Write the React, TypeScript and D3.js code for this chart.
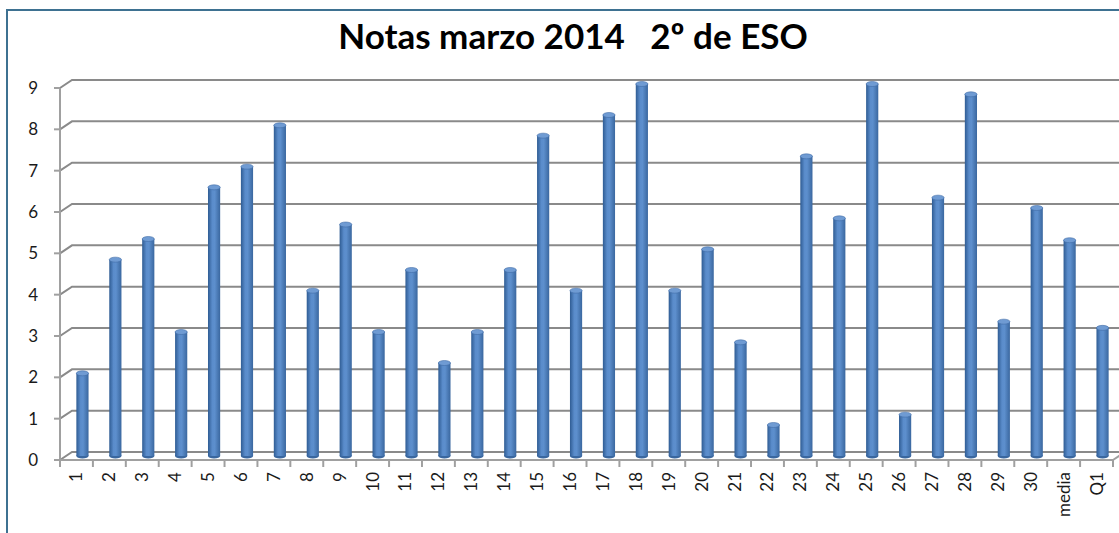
import * as d3 from 'd3';

const categories = [
  '1', '2', '3', '4', '5', '6', '7', '8', '9', '10',
  '11', '12', '13', '14', '15', '16', '17', '18', '19', '20',
  '21', '22', '23', '24', '25', '26', '27', '28', '29', '30',
  'media', 'Q1',
];

const notas = [
  2, 4.75, 5.25, 3, 6.5, 7, 8, 4, 5.6, 3,
  4.5, 2.25, 3, 4.5, 7.75, 4, 8.25, 9, 4, 5,
  2.75, 0.75, 7.25, 5.75, 9, 1, 6.25, 8.75, 3.25, 6,
  5.22, 3.1,
];

const yTicks = [0, 1, 2, 3, 4, 5, 6, 7, 8, 9];

const title = 'Notas marzo 2014\u00a0\u00a0 2º de ESO';

const width = 1119;
const height = 533;
const depthX = 12;
const depthY = 8;

export default function App() {
  // front plane of the 3D box
  const x = d3.scaleBand<string>().domain(categories).range([60, 1113]);
  const y = d3.scaleLinear().domain([0, 9]).range([460, 88]);

  const bw = x.bandwidth() * 0.37;
  const font = 'Lato, "Open Sans", sans-serif';

  return (
    <svg
      width={width}
      height={height}
      style={{ position: 'absolute', left: 0, top: 0, background: '#fff' }}
    >
      <defs>
        <linearGradient id="cyl" x1="0" x2="1" y1="0" y2="0">
          <stop offset="0" stopColor="#2f5c93" />
          <stop offset="0.35" stopColor="#5a8ccb" />
          <stop offset="0.55" stopColor="#5d8fcd" />
          <stop offset="1" stopColor="#3a679f" />
        </linearGradient>
      </defs>

      <rect x={7} y={10} width={width} height={height} fill="#fff" stroke="#3e7191" strokeWidth={2} />

      <text
        x={573}
        y={49}
        textAnchor="middle"
        fontFamily={font}
        fontWeight="bold"
        fontSize={35}
        fill="#000"
      >
        {title}
      </text>

      {/* back wall gridlines + diagonal connectors */}
      <g stroke="#8a8a8a" strokeWidth={2} fill="none">
        {yTicks.map((t) => (
          <path
            key={t}
            d={`M${60},${y(t)}L${60 + depthX},${y(t) - depthY}L${width},${y(t) - depthY}`}
          />
        ))}
      </g>
      <g stroke="#a0a0a0" strokeWidth={2} fill="none">
        <line x1={60} x2={60} y1={y(9)} y2={y(0)} />
        <line x1={60} x2={x.range()[1]} y1={y(0)} y2={y(0)} />
        <line
          x1={x.range()[1]}
          y1={y(0)}
          x2={x.range()[1] + depthX}
          y2={y(0) - depthY}
        />
        {yTicks.map((t) => (
          <line key={'t' + t} x1={54} x2={60} y1={y(t)} y2={y(t)} />
        ))}
        {categories.map((c) => (
          <line key={'c' + c} x1={x(c)!} x2={x(c)!} y1={y(0)} y2={y(0) + 7} />
        ))}
        <line x1={x.range()[1]} x2={x.range()[1]} y1={y(0)} y2={y(0) + 7} />
      </g>

      {/* cylinder bars at mid depth */}
      <g>
        {categories.map((c, i) => {
          const cx = x(c)! + x.bandwidth() / 2 + depthX / 2;
          const base = y(0) - depthY / 2;
          const top = y(notas[i]) - depthY / 2;
          return (
            <g key={c}>
              <ellipse cx={cx} cy={base} rx={bw / 2} ry={2.5} fill="#3a679f" />
              <rect x={cx - bw / 2} y={top} width={bw} height={base - top} fill="url(#cyl)" />
              <ellipse cx={cx} cy={top} rx={bw / 2} ry={2.5} fill="#6f9bd3" stroke="#3f6ca6" strokeWidth={0.6} />
            </g>
          );
        })}
      </g>

      <g fontFamily={font} fontSize={17} fill="#1a1a1a">
        {yTicks.map((t) => (
          <text key={t} x={38} y={y(t)} dy="0.35em" textAnchor="end">
            {t}
          </text>
        ))}
        {categories.map((c) => {
          const cx = x(c)! + x.bandwidth() / 2;
          return (
            <text
              key={c}
              transform={`translate(${cx},${472}) rotate(-90)`}
              dy="0.35em"
              textAnchor="end"
            >
              {c}
            </text>
          );
        })}
      </g>
    </svg>
  );
}
